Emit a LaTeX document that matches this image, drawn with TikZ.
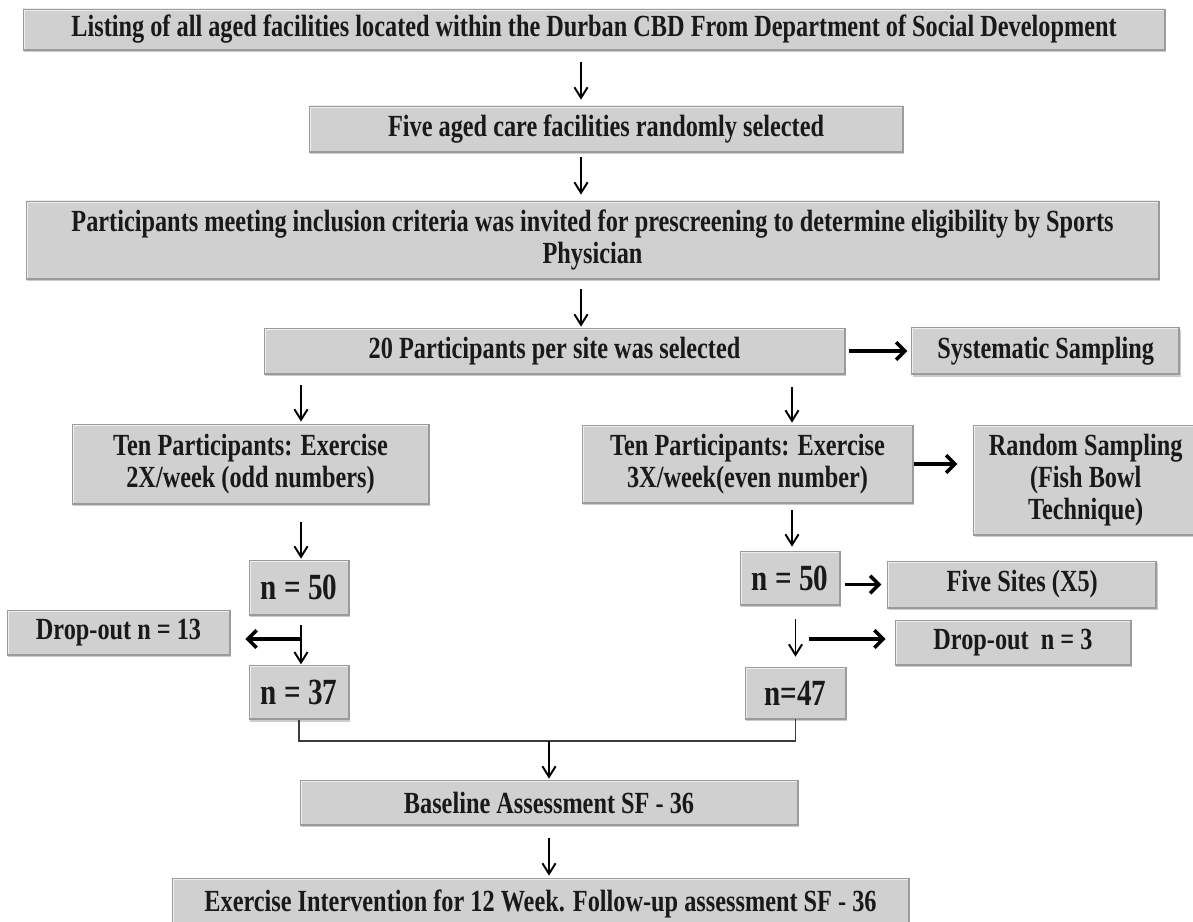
\documentclass[tikz,border=0pt]{standalone}
\usepackage{fontspec}
\setmainfont{Liberation Serif}[FakeStretch=0.79]
\usepackage{tikz}
\usepackage{xcolor}
\usetikzlibrary{arrows.meta, positioning, shadows, calc}
\definecolor{colBox}   {RGB}{208, 208, 208}
\definecolor{colEdge}  {RGB}{155, 155, 155}
\definecolor{colLight} {RGB}{238, 238, 238}
\definecolor{colText}  {RGB}{ 25,  25,  25}
\definecolor{colLine}  {RGB}{ 60,  60,  60}
\newdimen\pxu \pxu=0.02cm
\tikzset{
  flowbox/.style={
    rectangle, draw=colEdge, line width=0.4pt, fill=colBox, text=colText,
    font=\bfseries\fontsize{17.5}{18}\selectfont,
    align=center, inner sep=2pt,
    drop shadow={shadow xshift=0.6pt, shadow yshift=-1.4pt, opacity=0.4},
    path picture={
      \draw[colLight, line width=2pt]
        (path picture bounding box.south west) -- (path picture bounding box.north west)
        -- (path picture bounding box.north east);
      \draw[colEdge, line width=1.6pt]
        (path picture bounding box.north east) -- (path picture bounding box.south east)
        -- (path picture bounding box.south west);
    }
  },
  countbox/.style={
    flowbox, font=\bfseries\fontsize{21}{24}\selectfont
  },
  downarrow/.style={
    -{Straight Barb[length=6pt, width=7.5pt]}, line width=1.1pt, color=black
  },
  sidearrow/.style={
    -{Straight Barb[length=5pt, width=10pt]}, line width=2pt, color=black
  },
  joinline/.style={
    line width=0.9pt, color=colLine
  },
}

\begin{document}
\begin{tikzpicture}[x=0.02cm, y=-0.02cm]

\fill[white] (0,0) rectangle (1193,922);
\useasboundingbox (0,0) rectangle (1193,922);

%% ══════════════════════════════════════════════════════════════
%%  SELECTION OF SITES  (top, full width)
%% ══════════════════════════════════════════════════════════════
\node[flowbox, minimum width=1142\pxu, minimum height=41\pxu] (listing) at (594,29.5)
  {Listing of all aged facilities located within the Durban CBD From Department of Social Development};

\node[flowbox, minimum width=594\pxu, minimum height=46\pxu] (five) at (606,129)
  {Five aged care facilities randomly selected};

\node[flowbox, minimum width=1133\pxu, minimum height=78\pxu] (invite) at (592.5,240)
  {Participants meeting inclusion criteria was invited for prescreening to determine eligibility by Sports\\Physician};

\node[flowbox, minimum width=581\pxu, minimum height=46\pxu] (twenty) at (554.5,351)
  {20 Participants per site was selected};

\node[flowbox, minimum width=268\pxu, minimum height=47\pxu, right=66\pxu of twenty] (system)
  {Systematic Sampling};

%% ══════════════════════════════════════════════════════════════
%%  TWO EXERCISE GROUPS
%% ══════════════════════════════════════════════════════════════
\node[flowbox, minimum width=357\pxu, minimum height=80\pxu] (twice) at (250.5,464)
  {Ten Participants: Exercise\\2X/week (odd numbers)};

\node[flowbox, minimum width=331\pxu, minimum height=78\pxu] (thrice) at (747.5,464)
  {Ten Participants: Exercise\\3X/week(even number)};

\node[flowbox, minimum width=224\pxu, minimum height=110\pxu,
      right=60\pxu of thrice.north east, anchor=north west] (random)
  {Random Sampling\\(Fish Bowl\\Technique)};

% group sizes
\node[countbox, minimum width=100\pxu, minimum height=55\pxu] (fiftyL) at (299,587.5) {n = 50};
\node[countbox, minimum width=100\pxu, minimum height=54\pxu] (fiftyR) at (790,578) {n = 50};

\node[flowbox, minimum width=269\pxu, minimum height=47\pxu,
      right=47\pxu of fiftyR, yshift=-6.5\pxu] (sites) {Five Sites (X5)};

\node[flowbox, minimum width=223\pxu, minimum height=45\pxu] (dropL) at (118.5,632.5)
  {Drop-out n = 13};
\node[flowbox, minimum width=236\pxu, minimum height=45\pxu] (dropR) at (1013,642.5)
  {Drop-out~~n = 3};

\node[countbox, minimum width=100\pxu, minimum height=54\pxu, below=50\pxu of fiftyL] (restL) {n = 37};
\node[countbox, minimum width=101\pxu, minimum height=52\pxu] (restR) at (795.5,693) {n=47};

%% ══════════════════════════════════════════════════════════════
%%  ASSESSMENT  (bottom)
%% ══════════════════════════════════════════════════════════════
\node[flowbox, minimum width=498\pxu, minimum height=45\pxu] (base) at (549,802.5)
  {Baseline Assessment SF - 36};
\node[flowbox, minimum width=737\pxu, minimum height=52\pxu] (follow) at (540.5,904)
  {Exercise Intervention for 12 Week. Follow-up assessment SF - 36};

%% ── helper coordinates ─────────────────────────────────────
\coordinate (spine) at (581,0);
\coordinate (colL)  at (301,0);
\coordinate (colR)  at (792,0);
\coordinate (splitL) at (301,639);
\coordinate (splitR) at (809,639);
\coordinate (merge)  at (549,741);

%% ── down arrows ────────────────────────────────────────────
\draw[downarrow, shorten <=12\pxu, shorten >=6\pxu] (listing.south -| spine) -- (five.north -| spine);
\draw[downarrow, shorten <=5\pxu,  shorten >=6\pxu] (five.south -| spine)    -- (invite.north -| spine);
\draw[downarrow, shorten <=10\pxu, shorten >=1\pxu] (invite.south -| spine)  -- (twenty.north -| spine);
\draw[downarrow, shorten <=11\pxu, shorten >=2\pxu] (twenty.south -| colL)   -- (twice.north -| colL);
\draw[downarrow, shorten <=13\pxu, shorten >=2\pxu] (twenty.south -| colR)   -- (thrice.north -| colR);
\draw[downarrow, shorten <=18\pxu, shorten >=1\pxu] (twice.south -| colL)    -- (fiftyL.north -| colL);
\draw[downarrow, shorten <=7\pxu,  shorten >=4\pxu] (thrice.south -| colR)   -- (fiftyR.north -| colR);
\draw[downarrow, shorten <=10\pxu, shorten >=1\pxu] (fiftyL.south -| colL)   -- (restL.north -| colL);
\draw[downarrow, shorten <=14\pxu, shorten >=10\pxu] (fiftyR.south -| restR.north) -- (restR.north);

%% ── side arrows ────────────────────────────────────────────
\draw[sidearrow, shorten <=4\pxu, shorten >=4\pxu]  (twenty.east) -- (system.west);
\draw[sidearrow, shorten <=1\pxu, shorten >=16\pxu] (thrice.east) -- (thrice.east -| random.west);
\draw[sidearrow, shorten <=5\pxu, shorten >=6\pxu]  (sites.west -| fiftyR.east) -- (sites.west);
\draw[sidearrow, shorten >=15\pxu] (splitL) -- (splitL -| dropL.east);
\draw[sidearrow, shorten >=9\pxu]  (splitR) -- (splitR -| dropR.west);

%% ── merge into assessment ──────────────────────────────────
\draw[joinline] (restL.south) |- (merge) -| (restR.south);
\draw[downarrow, shorten >=1\pxu] (merge) -- (base.north);
\draw[downarrow, shorten <=13\pxu, shorten >=2\pxu] (base.south) -- (base.south |- follow.north);

\end{tikzpicture}
\end{document}
